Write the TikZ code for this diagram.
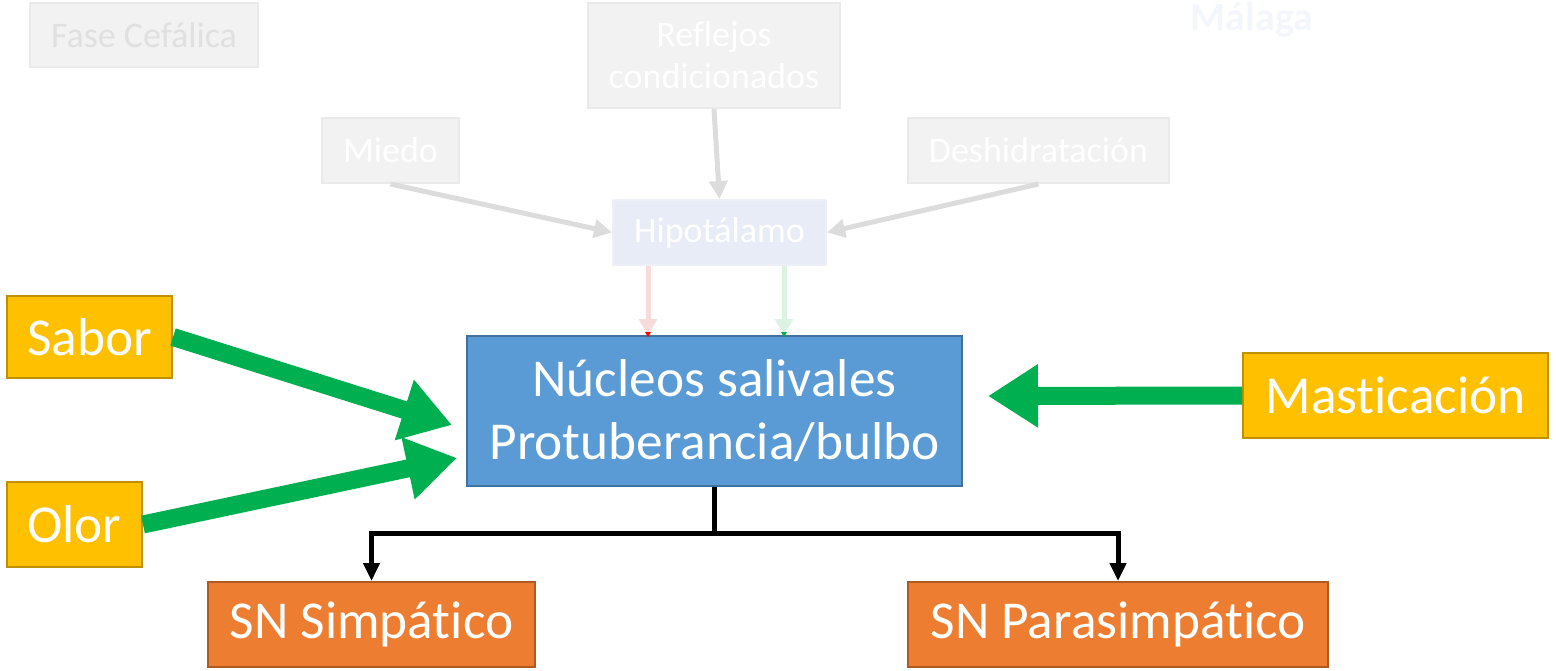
\documentclass[tikz,border=0pt]{standalone}
\usepackage{fontspec}
\setmainfont[Ligatures={NoCommon}]{Carlito}
\usetikzlibrary{arrows.meta}
\definecolor{gold}{HTML}{FFC000}
\definecolor{goldline}{HTML}{BF9000}
\definecolor{bluefill}{HTML}{5B9BD5}
\definecolor{blueline}{HTML}{41719C}
\definecolor{orfill}{HTML}{ED7D31}
\definecolor{orline}{HTML}{AE5A21}
\definecolor{grn}{HTML}{00B050}
\definecolor{fadefill}{HTML}{F2F2F2}
\definecolor{fadeline}{HTML}{EAEAEA}
\definecolor{fadearrow}{HTML}{DCDCDC}
\definecolor{hipofill}{HTML}{E7ECF6}
\definecolor{hipoline}{HTML}{EDF0F7}
\definecolor{pinkarrow}{HTML}{F7DADA}
\definecolor{mintarrow}{HTML}{DCF3E4}
\definecolor{malaga}{HTML}{F3F6FB}
\tikzset{
  box/.style={draw, line width=2pt, inner sep=0pt, font=\fontsize{53.3}{63}\selectfont, text=white, align=center},
  goldbox/.style={box, fill=gold, draw=goldline},
  orbox/.style={box, fill=orfill, draw=orline},
  fadebox/.style={draw=fadeline, fill=fadefill, line width=2pt, inner sep=0pt, font=\fontsize{36}{42}\selectfont, text=white, align=center},
  fadearr/.style={draw=fadearrow, line width=5pt, -{Triangle[length=18pt,width=18pt]}},
  bigarr/.style={draw=grn, line width=18pt, -{Triangle[length=50pt,width=60pt]}},
  blackarr/.style={draw=black, line width=5pt, -{Triangle[length=18pt,width=16pt]}},
}
\begin{document}
\begin{tikzpicture}[x=1pt,y=-1pt]
\useasboundingbox (0,0) rectangle (1556,671);
% faded upper part
\node[fadebox, minimum width=228pt, minimum height=64pt, text=black!12] (fase) at (144,35) {Fase Cefálica};
\node[font=\bfseries\fontsize{40}{48}\selectfont, text=malaga] (malaga) at (1252,20) {Málaga};
\node[fadebox, minimum width=252pt, minimum height=105pt] (refl) at (714,55.5) {Reflejos\\condicionados};
\node[fadebox, minimum width=137pt, minimum height=65pt] (miedo) at (390.5,150.5) {Miedo};
\node[fadebox, minimum width=261pt, minimum height=65pt] (desh) at (1038.5,150.5) {Deshidratación};
\node[fadebox, fill=hipofill, draw=hipoline, minimum width=213pt, minimum height=65pt] (hipo) at (719.5,232.5) {Hipotálamo};
% main boxes
\node[box, fill=bluefill, draw=blueline, minimum width=495pt, minimum height=150pt] (nuc) at (714.5,411) {Núcleos salivales\\Protuberancia/bulbo};
\node[goldbox, minimum width=165pt, minimum height=82pt] (sabor) at (89.5,337) {Sabor};
\node[goldbox, minimum width=135pt, minimum height=85pt] (olor) at (74.5,524.5) {Olor};
\node[goldbox, minimum width=305pt, minimum height=85pt] (mast) at (1395.5,395.5) {Masticación};
\node[orbox, minimum width=327pt, minimum height=85pt] (simp) at (371.5,624.5) {SN Simpático};
\node[orbox, minimum width=420pt, minimum height=85pt] (para) at (1118,624.5) {SN Parasimpático};
% coordinates
\coordinate (saborTip) at (452,425);
\coordinate (olorTip) at (457,458);
\coordinate (mastTip) at (988,396);
\coordinate (fork) at (714.5,533);
% faded arrows
\draw[fadearr] (refl.south) -- (hipo.north);
\draw[fadearr] (miedo.south) -- (hipo.west);
\draw[fadearr] (desh.south) -- (hipo.east);
\draw[draw=pinkarrow, line width=5pt, -{Triangle[length=16pt,width=18pt]}] (hipo.south -| 648,0) -- (nuc.north -| 648,0);
\draw[draw=mintarrow, line width=5pt, -{Triangle[length=16pt,width=18pt]}] (hipo.south -| 784,0) -- (nuc.north -| 784,0);
\fill[red] (645,332) -- (651,332) -- (648,337) -- cycle;
\fill[grn] (781,332) -- (787,332) -- (784,337) -- cycle;
% green arrows
\draw[bigarr] (sabor.east) -- (saborTip);
\draw[bigarr] (olor.east) -- (olorTip);
\draw[bigarr] (mast.west) -- (mastTip);
% black tree
\draw[line width=5pt] (nuc.south) -- (fork);
\draw[blackarr] (fork) -| (simp.north);
\draw[blackarr] (fork) -| (para.north);
\end{tikzpicture}
\end{document}
